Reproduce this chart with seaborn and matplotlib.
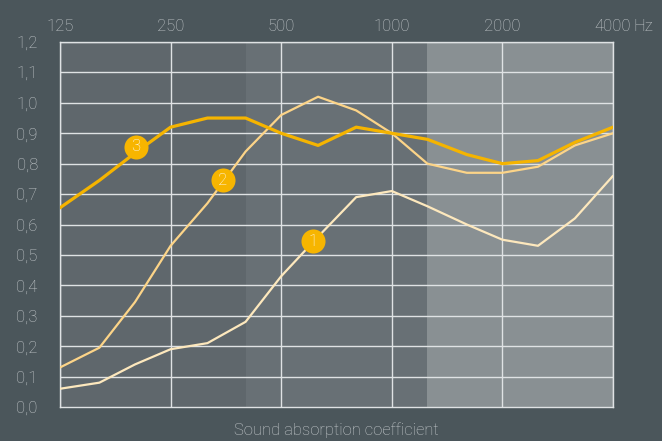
import numpy as np
import pandas as pd
import matplotlib
matplotlib.use("Agg")
import matplotlib.pyplot as plt
import seaborn as sns
from matplotlib.ticker import FixedLocator, FuncFormatter, NullLocator

# third-octave centre frequencies (Hz)
freqs = [125, 160, 200, 250, 315, 400, 500, 630, 800, 1000, 1250, 1600, 2000, 2500, 3150, 4000]

# sound absorption coefficients
curve_1 = [0.06, 0.08, 0.14, 0.19, 0.21, 0.28, 0.43, 0.56, 0.69, 0.71, 0.66, 0.60, 0.55, 0.53, 0.62, 0.76]
curve_2 = [0.13, 0.195, 0.345, 0.53, 0.67, 0.84, 0.96, 1.02, 0.975, 0.90, 0.80, 0.77, 0.77, 0.79, 0.86, 0.90]
curve_3 = [0.655, 0.745, 0.835, 0.92, 0.95, 0.95, 0.90, 0.86, 0.92, 0.90, 0.88, 0.83, 0.80, 0.81, 0.87, 0.92]

# numbered badges: label, frequency, coefficient
badge_labels = ["1", "2", "3"]
badge_freqs = [610, 347, 201]
badge_values = [0.545, 0.745, 0.855]

# frequency bands shaded behind the grid
band_edges = [125, 400, 1250, 4000]
band_colors = ["#5f676c", "#687075", "#899093"]

tick_freqs = [125, 250, 500, 1000, 2000, 4000]
tick_labels = ["125", "250", "500", "1000", "2000", "4000"]

bg = "#4b565b"
grid_col = "#dfe2e4"
text_col = "#c5cacd"

df = pd.DataFrame({
    "freq": freqs * 3,
    "alpha": curve_1 + curve_2 + curve_3,
    "curve": ["1"] * len(freqs) + ["2"] * len(freqs) + ["3"] * len(freqs),
})

sns.set_style("dark")
plt.rcParams["font.family"] = ["Roboto", "DejaVu Sans"]

fig = plt.figure(figsize=(6.62, 4.41), dpi=100, facecolor=bg)
ax = fig.add_axes([60 / 662, 34 / 441, 553 / 662, 365 / 441])
ax.set_facecolor(bg)

for (lo, hi), c in zip(zip(band_edges[:-1], band_edges[1:]), band_colors):
    ax.axvspan(lo, hi, color=c, lw=0, zorder=0)

ax.set_xscale("log", base=2)
ax.set_xlim(125, 4000)
ax.set_ylim(0, 1.2)

# grid
for v in np.arange(0.1, 1.21, 0.1):
    ax.axhline(v, color=grid_col, lw=1.0, zorder=1)
for f in tick_freqs:
    ax.axvline(f, color=grid_col, lw=1.0, zorder=1)

palette = {"1": "#fde8bd", "2": "#fcd488", "3": "#f5b400"}
sizes = {"1": 1.6, "2": 1.6, "3": 2.3}
sns.lineplot(data=df, x="freq", y="alpha", hue="curve", size="curve",
             palette=palette, sizes=sizes, legend=False, ax=ax, zorder=3)

ax.scatter(badge_freqs, badge_values, s=300, color="#f7b500", zorder=5, lw=0)
for lab, f, v in zip(badge_labels, badge_freqs, badge_values):
    ax.text(f, v, lab, color="white", fontsize=12, ha="center", va="center",
            zorder=6, fontweight="light")

for s in ax.spines.values():
    s.set_visible(True)
    s.set_color(grid_col)
    s.set_linewidth(1.0)

ax.xaxis.tick_top()
ax.xaxis.set_major_locator(FixedLocator(tick_freqs))
ax.xaxis.set_minor_locator(NullLocator())
ax.set_xticklabels(tick_labels)
ax.annotate("Hz", xy=(4000, 1.0), xycoords=("data", "axes fraction"),
            xytext=(15, 6), textcoords="offset points", ha="left", va="bottom",
            color=text_col, fontsize=12, fontweight="light")

ax.set_yticks(np.round(np.arange(0, 1.21, 0.1), 1))
ax.yaxis.set_major_formatter(FuncFormatter(lambda v, p: f"{v:.1f}".replace(".", ",")))

ax.tick_params(axis="both", length=0, colors=text_col, labelsize=12)
ax.tick_params(axis="x", pad=6)
ax.tick_params(axis="y", pad=16)
for t in ax.get_xticklabels() + ax.get_yticklabels():
    t.set_fontweight("light")

ax.set_xlabel("Sound absorption coefficient", color=text_col, fontsize=12,
              fontweight="light", labelpad=11)
ax.xaxis.set_label_position("bottom")
ax.set_ylabel("")

fig.savefig("out.png", dpi=100, facecolor=bg)
